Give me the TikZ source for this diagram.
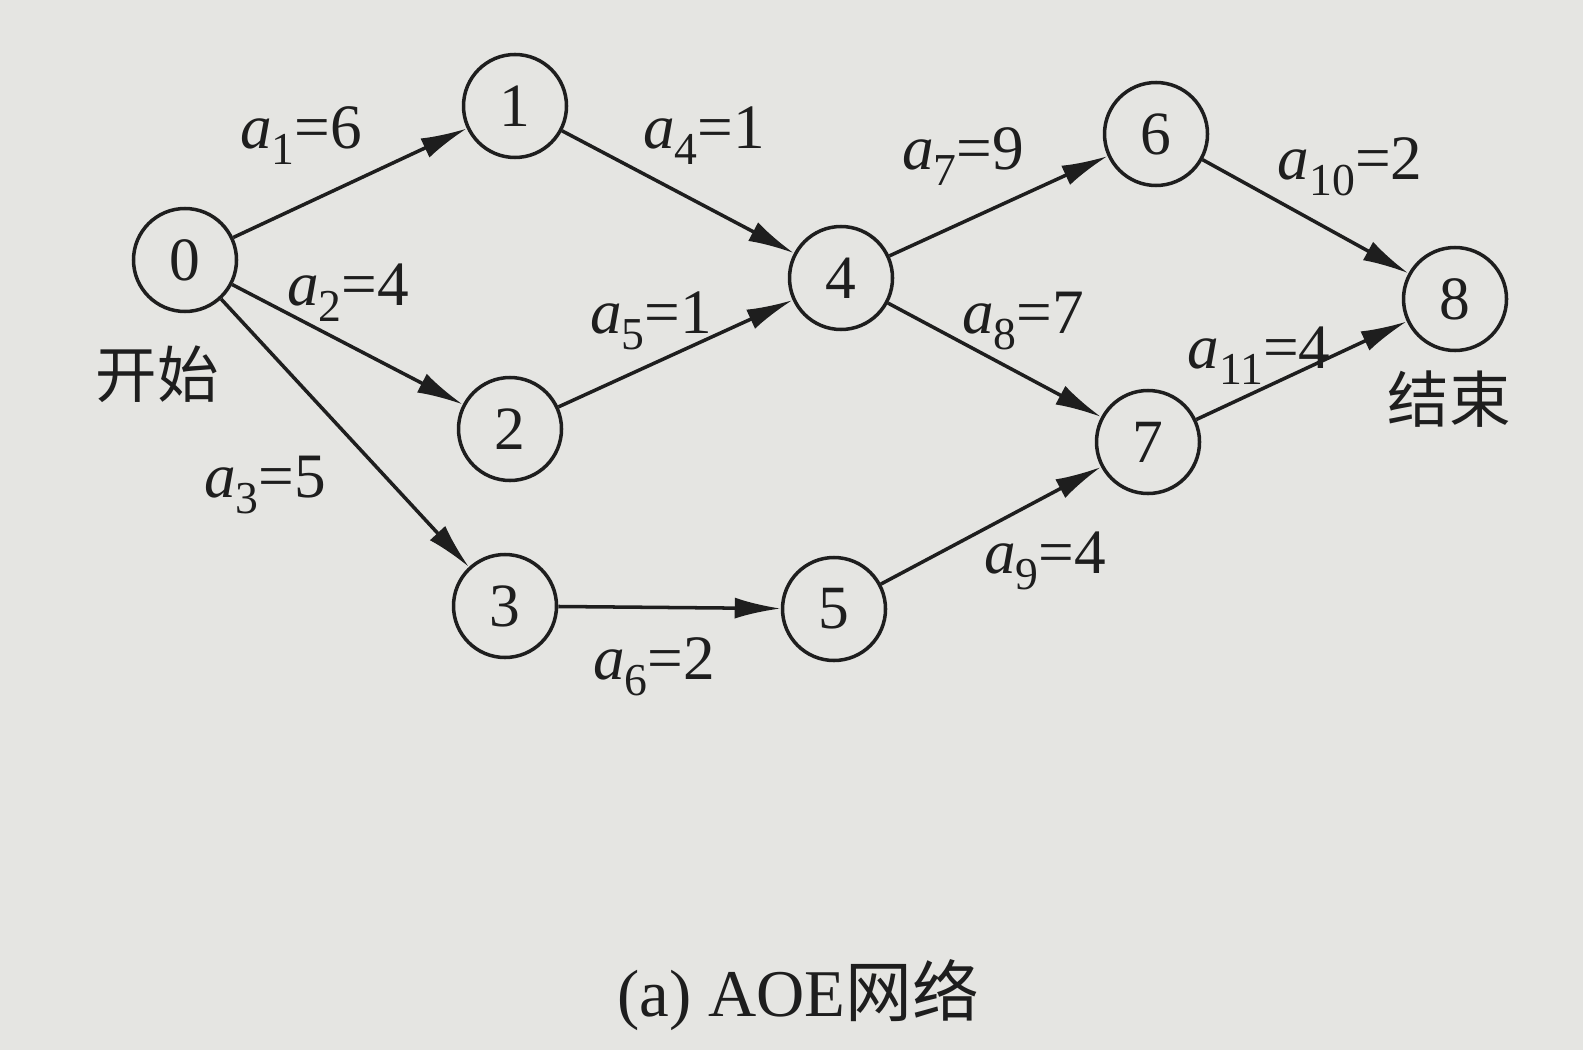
\documentclass[tikz,border=0pt]{standalone}
\usepackage{fontspec}
\setmainfont{Liberation Serif}
\newfontfamily\cjk{Noto Sans CJK SC}
\usetikzlibrary{arrows.meta}
\definecolor{paper}{RGB}{229,229,226}
\definecolor{ink}{RGB}{30,30,30}
\newcommand{\wt}[2]{\textit{a}\raisebox{-0.55ex}{\fontsize{13}{15}\selectfont #1}=#2}
\tikzset{
  vertex/.style = {circle, draw=ink, line width=1pt, minimum size=1.03cm, inner sep=0pt,
                   font=\fontsize{17.5}{20}\selectfont, text=ink},
  lbl/.style = {inner sep=1pt, font=\fontsize{18}{21}\selectfont, text=ink},
  note/.style = {inner sep=1pt, font=\cjk\fontsize{17.5}{20}\selectfont, text=ink},
  arc/.style = {draw=ink, line width=1pt, -{Latex[length=4.6mm,width=2.1mm]}}
}
\begin{document}
\begin{tikzpicture}
  \fill[paper] (0,0) rectangle (15.83,10.5);
  \useasboundingbox (0,0) rectangle (15.83,10.5);
  % vertices
  \node[vertex] (v0) at (1.85,7.90) {0};
  \node[vertex] (v1) at (5.15,9.44) {1};
  \node[vertex] (v2) at (5.10,6.21) {2};
  \node[vertex] (v3) at (5.05,4.44) {3};
  \node[vertex] (v4) at (8.41,7.72) {4};
  \node[vertex] (v5) at (8.34,4.41) {5};
  \node[vertex] (v6) at (11.56,9.16) {6};
  \node[vertex] (v7) at (11.48,6.08) {7};
  \node[vertex] (v8) at (14.55,7.51) {8};
  % activities
  \draw[arc] (v0) -- (v1);
  \draw[arc] (v0) -- (v2);
  \draw[arc] (v0) -- (v3);
  \draw[arc] (v1) -- (v4);
  \draw[arc] (v2) -- (v4);
  \draw[arc] (v3) -- (v5);
  \draw[arc] (v4) -- (v6);
  \draw[arc] (v4) -- (v7);
  \draw[arc] (v5) -- (v7);
  \draw[arc] (v6) -- (v8);
  \draw[arc] (v7) -- (v8);
  % weights
  \node[lbl] (w1) at (3.01,9.14) {\wt{1}{6}};
  \node[lbl] (w2) at (3.48,7.57) {\wt{2}{4}};
  \node[lbl] (w3) at (2.65,5.65) {\wt{3}{5}};
  \node[lbl] (w4) at (7.04,9.14) {\wt{4}{1}};
  \node[lbl] (w5) at (6.51,7.29) {\wt{5}{1}};
  \node[lbl] (w6) at (6.54,3.83) {\wt{6}{2}};
  \node[lbl] (w7) at (9.63,8.93) {\wt{7}{9}};
  \node[lbl] (w8) at (10.23,7.29) {\wt{8}{7}};
  \node[lbl] (w9) at (10.45,4.89) {\wt{9}{4}};
  \node[lbl] (w10) at (13.50,8.83) {\wt{10}{2}};
  \node[lbl] (w11) at (12.59,6.94) {\wt{11}{4}};
  \node[note] (start) at (1.57,6.76) {开始};
  \node[note] (finish) at (14.49,6.51) {结束};
  \node[lbl, font=\fontsize{19}{22}\selectfont] (caption) at (7.98,0.55) {(a) AOE{\cjk 网络}};
\end{tikzpicture}
\end{document}
